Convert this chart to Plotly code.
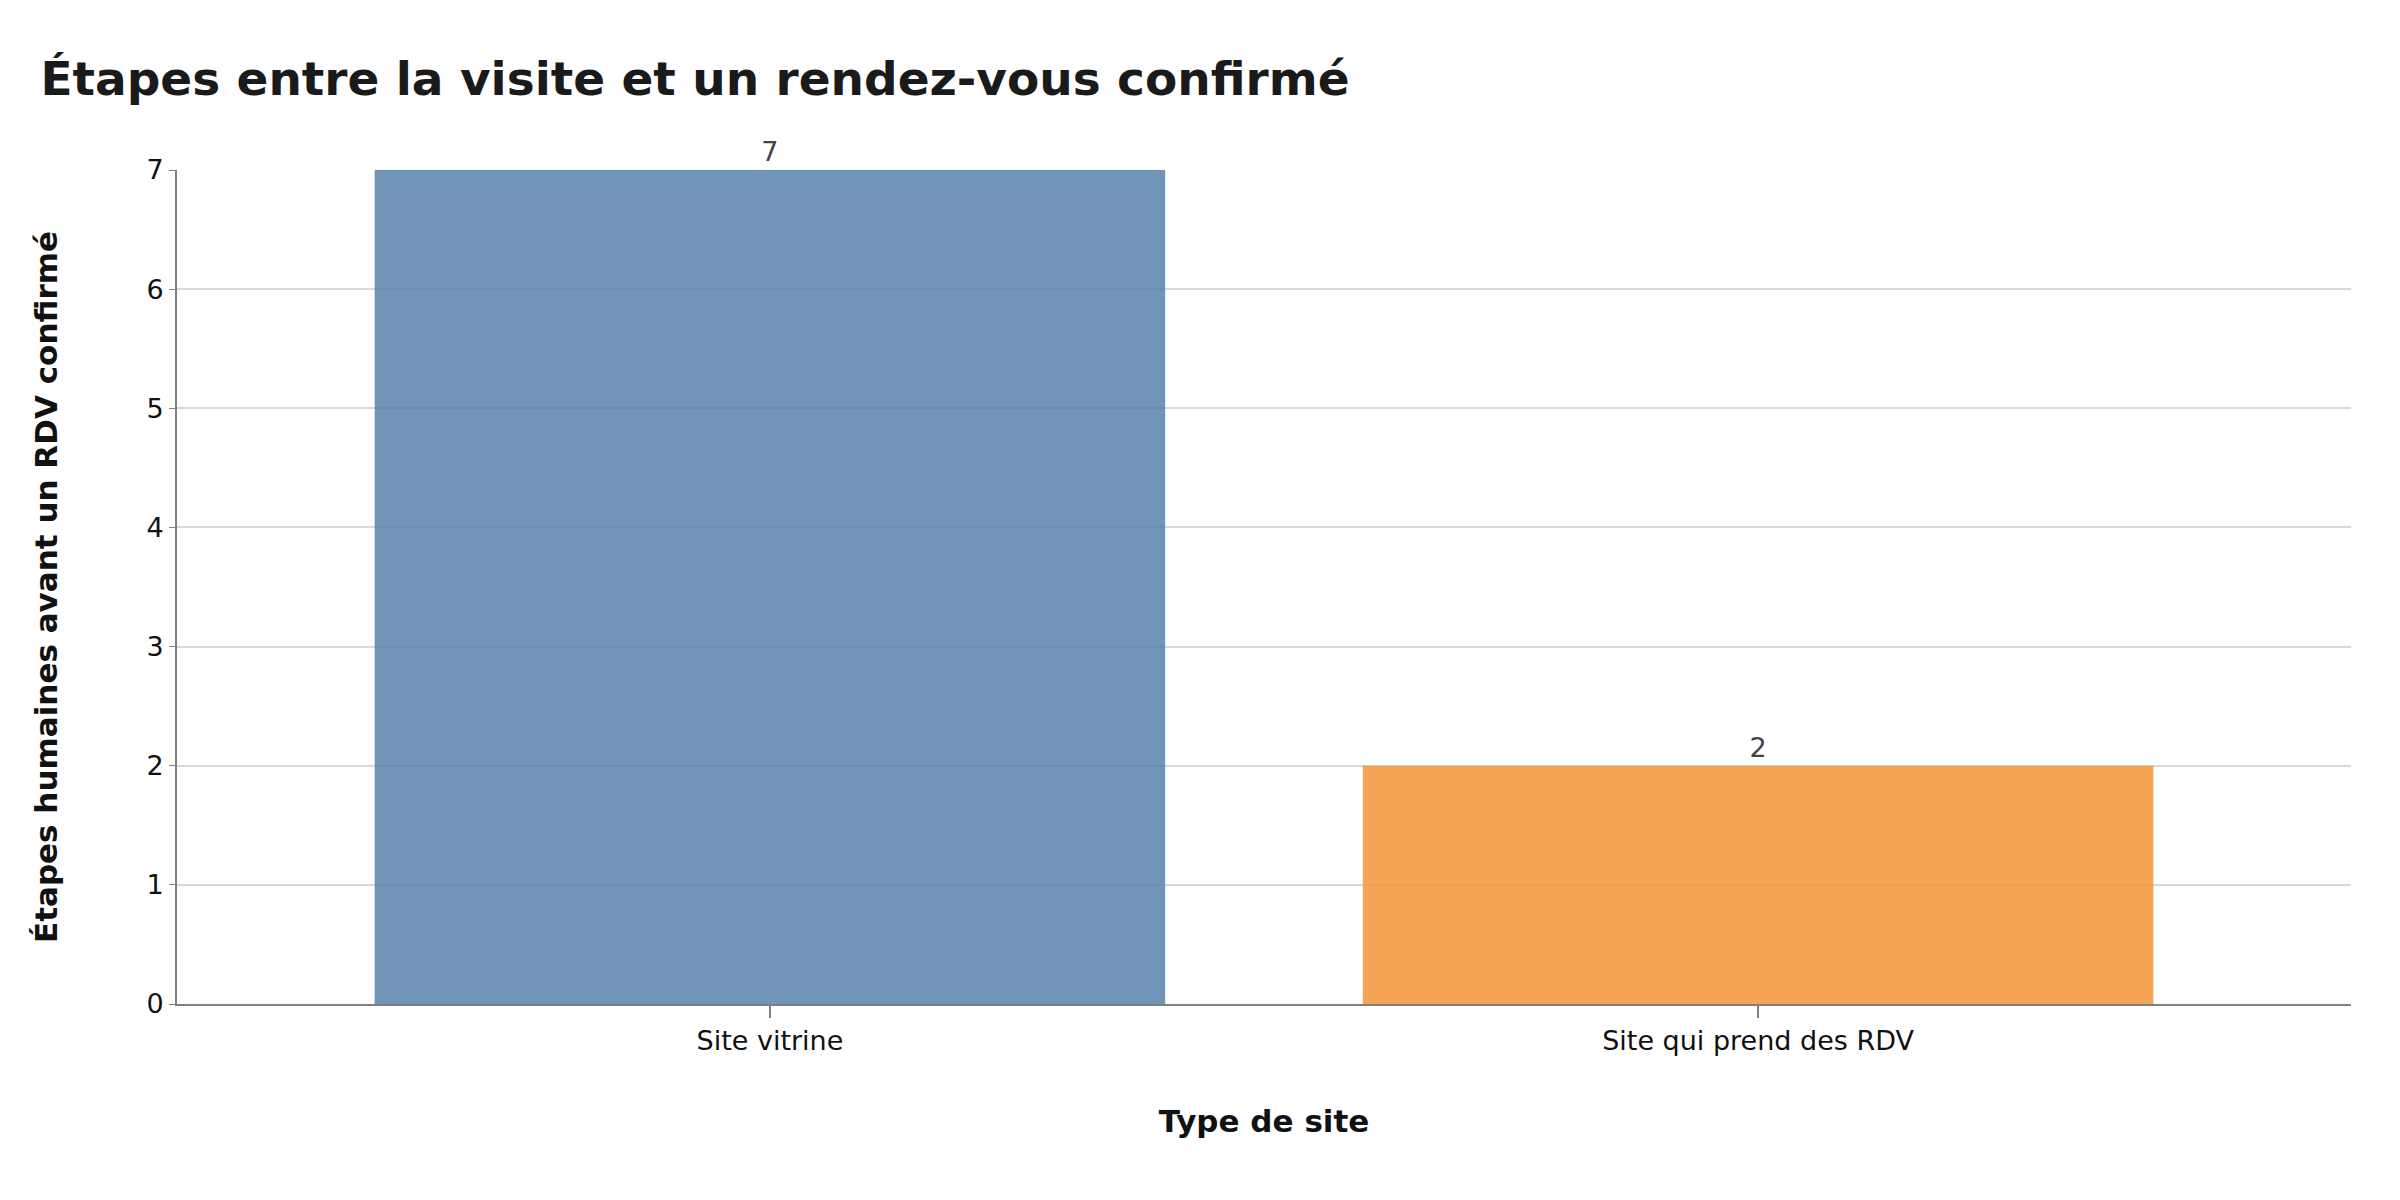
import plotly.graph_objects as go

categories = ["Site vitrine", "Site qui prend des RDV"]
values = [7, 2]
colors = ["#4e79a7", "#f28e2b"]

fig = go.Figure()
fig.add_trace(go.Bar(
    x=categories, y=values,
    marker=dict(color=colors, opacity=0.8, line=dict(width=0)),
    width=0.8,
    text=[str(v) for v in values], textposition="outside",
    textfont=dict(size=27, color="#444444"),
    cliponaxis=False,
))
fig.update_layout(
    width=2400, height=1200,
    font=dict(family="DejaVu Sans", size=27, color="#111111"),
    paper_bgcolor="white", plot_bgcolor="white",
    title=dict(text="<b>Étapes entre la visite et un rendez-vous confirmé</b>",
               x=0.0135, xanchor="left", y=0.941, yanchor="middle",
               font=dict(size=47, color="#1a1a1a")),
    margin=dict(l=169, r=57, t=162, b=204),
    showlegend=False,
)
fig.update_xaxes(
    title=dict(text="<b>Type de site</b>", font=dict(size=31), standoff=55),
    range=[-0.6, 1.6],
    showline=True, linecolor="#808080", linewidth=2,
    ticks="outside", ticklen=12, tickcolor="#808080", tickwidth=2,
    showgrid=False,
)
fig.update_yaxes(
    title=dict(text="<b>Étapes humaines avant un RDV confirmé</b>", font=dict(size=31), standoff=80),
    range=[0, 7], dtick=1,
    showline=True, linecolor="#808080", linewidth=2,
    ticks="outside", ticklen=6, tickcolor="#808080",
    showgrid=True, gridcolor="#d9d9d9", gridwidth=2,
    zeroline=False,
)
fig.write_html("out.html")
